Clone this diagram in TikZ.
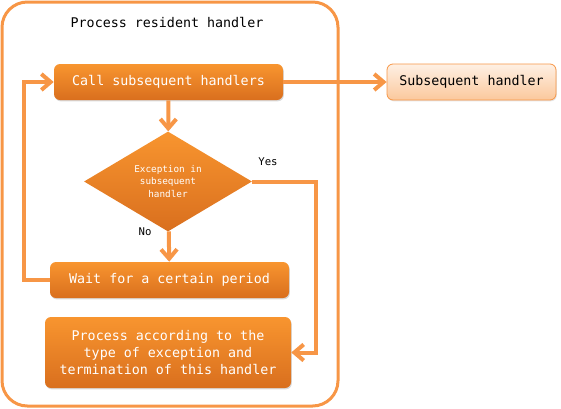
\documentclass[tikz,border=0pt]{standalone}
\usepackage{fontspec}
\setmonofont{DejaVu Sans Mono}
\usetikzlibrary{arrows.meta,shapes.geometric,shadows}
\definecolor{accent}{HTML}{F79646}
\definecolor{boxtop}{HTML}{F8952F}
\definecolor{boxbot}{HTML}{D96F1E}
\definecolor{paletop}{HTML}{FEF0E4}
\definecolor{palebot}{HTML}{FBC89C}
\tikzset{
  flowbox/.style={rectangle,rounded corners=4.5pt,top color=boxtop,bottom color=boxbot,
    text=white,font=\ttfamily\fontsize{10}{13}\selectfont,align=center,
    drop shadow={opacity=0.3,shadow xshift=0.6pt,shadow yshift=-1pt}},
  palebox/.style={rectangle,rounded corners=4.5pt,top color=paletop,bottom color=palebot,
    draw=accent,line width=0.6pt,font=\ttfamily\fontsize{10}{13}\selectfont,
    drop shadow={opacity=0.2,shadow xshift=0.6pt,shadow yshift=-1pt}},
  decision/.style={diamond,top color=boxtop,bottom color=boxbot,text=white,inner sep=0pt,
    font=\ttfamily\fontsize{7}{9.5}\selectfont,align=center},
  flowline/.style={accent,line width=3pt},
  tag/.style={font=\ttfamily\fontsize{8}{10}\selectfont}
}
\begin{document}
\begin{tikzpicture}[x=0.75pt,y=-0.75pt,>={Straight Barb[length=7pt,width=12pt]}]
\useasboundingbox (0,0) rectangle (561,408);
\draw[accent,line width=2.25pt,rounded corners=19pt] (2,2) rectangle (338,406);
\node[font=\ttfamily\fontsize{10}{13}\selectfont] (title) at (167,22) {Process resident handler};
\node[flowbox,minimum width=171.75pt,minimum height=27pt] (call) at (168.5,82) {Call subsequent handlers};
\node[palebox,minimum width=126.75pt,minimum height=27pt] (subh) at (471.5,82) {Subsequent handler};
\node[decision,minimum width=126pt,minimum height=66.75pt] (exc) at (168,181.5) {Exception in\\subsequent\\handler};
\node[flowbox,minimum width=179.25pt,minimum height=27pt] (wait) at (169.5,280) {Wait for a certain period};
\node[flowbox,minimum width=184.5pt,minimum height=53.25pt] (proc) at (168,352.5) {Process according to the\\type of exception and\\termination of this handler};
\coordinate (yesbend) at (316,181.5);
\coordinate (loopbend) at (24,280);
\node[tag] (yes) at (268,162) {Yes};
\node[tag] (no) at (145,232) {No};
\draw[flowline,->] (call) -- (subh);
\draw[flowline,->] (call) -- (exc);
\draw[flowline,->] (exc) -- (wait);
\draw[flowline,->] (exc.east) -- (yesbend) |- (proc.east);
\draw[flowline,->] (wait.west) -- (loopbend) |- (call.west);
\end{tikzpicture}
\end{document}
